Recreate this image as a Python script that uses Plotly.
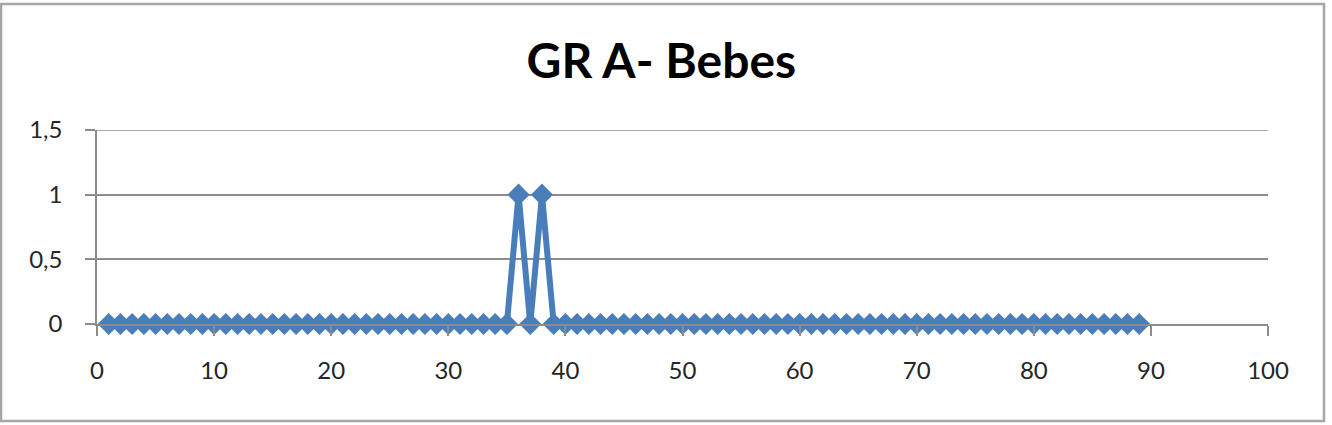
import plotly.graph_objects as go

# Data
x_values = list(range(1, 90))
peak_positions = [36, 38]
y_values = [1 if x in peak_positions else 0 for x in x_values]

title_text = "GR A- Bebes"
y_tickvals = [0, 0.5, 1, 1.5]
y_ticktext = ["0", "0,5", "1", "1,5"]
x_tickvals = [0, 10, 20, 30, 40, 50, 60, 70, 80, 90, 100]

BLUE = "#4A7EBB"
GRID = "#8C8C8C"
TXT = "#262626"

fig = go.Figure()
fig.add_trace(go.Scatter(
    x=x_values, y=y_values, mode="lines+markers",
    line=dict(color=BLUE, width=6),
    marker=dict(symbol="diamond", size=17, color=BLUE),
    cliponaxis=False, showlegend=False,
))

L, R, T, B = 97, 1268, 130, 324
W, H = 1332, 425

fig.update_layout(
    width=W, height=H,
    margin=dict(l=L, r=W - R, t=T, b=H - B),
    paper_bgcolor="white", plot_bgcolor="white",
    title=dict(text=f"<b>{title_text}</b>", x=0.4965, xanchor="center",
               y=1 - 61 / H, yanchor="middle",
               font=dict(family="Lato", size=48, color="black")),
    font=dict(family="Lato", size=24, color=TXT),
)
fig.update_xaxes(
    range=[0, 100], tickvals=x_tickvals, showgrid=False, zeroline=False,
    showline=True, linecolor=GRID, linewidth=1.5,
    ticks="outside", ticklen=10, tickcolor=GRID, tickwidth=1.5,
    ticklabelstandoff=14,
)
fig.update_yaxes(
    range=[0, 1.5], tickvals=y_tickvals, ticktext=y_ticktext,
    showgrid=True, gridcolor=GRID, gridwidth=1.5, zeroline=False,
    showline=True, linecolor=GRID, linewidth=1.5,
    ticks="outside", ticklen=10, tickcolor=GRID, tickwidth=1.5,
    ticklabelstandoff=18,
)

# top gridline at the upper end of the y range (plotly omits edge gridlines)
fig.add_shape(type="line", xref="paper", yref="y", x0=0, x1=1,
              y0=y_tickvals[-1], y1=y_tickvals[-1],
              line=dict(color=GRID, width=1.5), layer="below")

pw, ph = R - L, B - T
def px_x(px):
    return (px - L) / pw
def px_y(py):
    return (B - py) / ph

fig.add_shape(type="rect", xref="paper", yref="paper",
              x0=px_x(1), x1=px_x(1324), y0=px_y(421), y1=px_y(4),
              line=dict(color="#A6A6A6", width=2.5), fillcolor="rgba(0,0,0,0)",
              layer="below")

fig.write_html("out.html")
